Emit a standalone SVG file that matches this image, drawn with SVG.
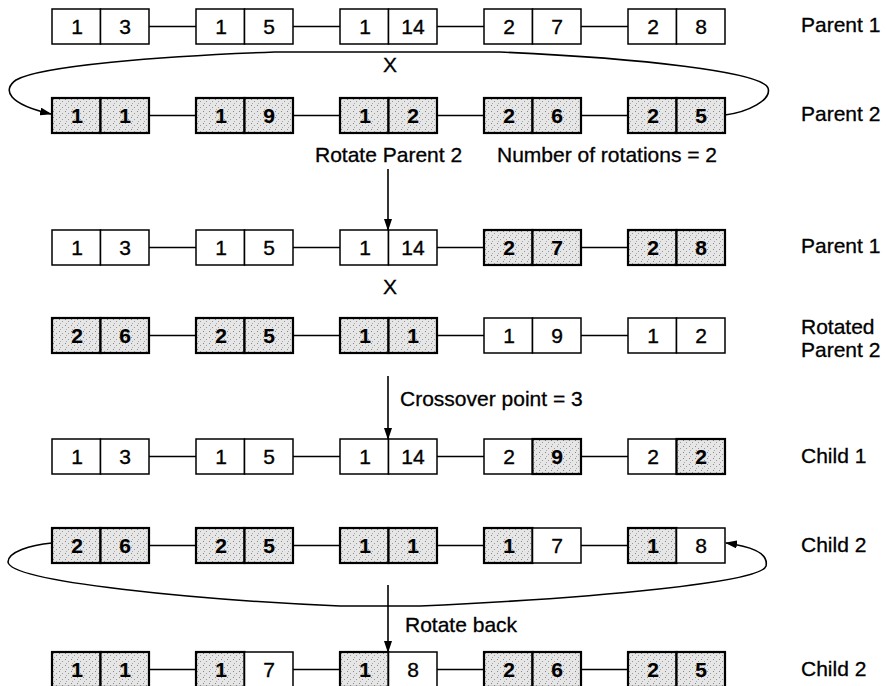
<svg xmlns="http://www.w3.org/2000/svg" width="886" height="686" viewBox="0 0 886 686">
<style>
.p{fill:#fff;stroke:#000;stroke-width:1.5}
.s{fill:url(#dots);stroke:#000;stroke-width:2.2}
.d{font-family:"Liberation Sans",Arial,sans-serif;font-size:21px;text-anchor:middle;fill:#000;stroke:#000;stroke-width:0.35}
.b{font-weight:bold;stroke-width:0.2}
.l{font-family:"Liberation Sans",Arial,sans-serif;font-size:21px;fill:#000;stroke:#000;stroke-width:0.3}
.ln{stroke:#000;stroke-width:1.6;fill:none}
</style>
<defs>
<pattern id="dots" width="6" height="6" patternUnits="userSpaceOnUse">
<rect width="6" height="6" fill="#e6e6e6"/>
<rect x="1" y="1" width="1" height="1" fill="#888"/>
<rect x="4" y="3" width="1" height="1" fill="#999"/>
<rect x="2" y="5" width="1" height="1" fill="#aaa"/>
</pattern>
<marker id="ah" markerWidth="12" markerHeight="8" refX="11" refY="4" orient="auto" markerUnits="userSpaceOnUse">
<path d="M0,0 L12,4 L0,8 Z" fill="#000"/>
</marker>
</defs>
<rect width="886" height="686" fill="#fff"/>

<g id="connectors">
<path class="ln" d="M149,26.5H196M293,26.5H340M437,26.5H484M581,26.5H628"/>
<path class="ln" d="M149,115.5H196M293,115.5H340M437,115.5H484M581,115.5H628"/>
<path class="ln" d="M149,247.5H196M293,247.5H340M437,247.5H484M581,247.5H628"/>
<path class="ln" d="M149,335.5H196M293,335.5H340M437,335.5H484M581,335.5H628"/>
<path class="ln" d="M149,456.5H196M293,456.5H340M437,456.5H484M581,456.5H628"/>
<path class="ln" d="M149,545.5H196M293,545.5H340M437,545.5H484M581,545.5H628"/>
<path class="ln" d="M149,669.5H196M293,669.5H340M437,669.5H484M581,669.5H628"/>
<path class="ln" marker-end="url(#ah)" d="M725,115 C748,112 772,100 768,88 C762,72 640,58 500,52 L275,52 C160,56 40,66 16,80 C2,90 8,104 51,114"/>
<path class="ln" marker-end="url(#ah)" d="M388,169 V230"/>
<path class="ln" marker-end="url(#ah)" d="M388,376 V439"/>
<path class="ln" marker-end="url(#ah)" d="M388,585 V652"/>
<path class="ln" marker-end="url(#ah)" d="M52,543 C30,545 8,552 8,562 C10,582 200,600 340,606 L420,606 C600,598 762,582 766,566 C769,552 748,546 726,543"/>
</g>

<g id="r1b1" transform="translate(52,9)"><rect class="p" width="48.5" height="35"/><rect class="p" x="48.5" width="48.5" height="35"/><text class="d" x="25" y="25">1</text><text class="d" x="73" y="25">3</text></g>
<g id="r1b2" transform="translate(196,9)"><rect class="p" width="48.5" height="35"/><rect class="p" x="48.5" width="48.5" height="35"/><text class="d" x="25" y="25">1</text><text class="d" x="73" y="25">5</text></g>
<g id="r1b3" transform="translate(340,9)"><rect class="p" width="48.5" height="35"/><rect class="p" x="48.5" width="48.5" height="35"/><text class="d" x="25" y="25">1</text><text class="d" x="73" y="25">14</text></g>
<g id="r1b4" transform="translate(484,9)"><rect class="p" width="48.5" height="35"/><rect class="p" x="48.5" width="48.5" height="35"/><text class="d" x="25" y="25">2</text><text class="d" x="73" y="25">7</text></g>
<g id="r1b5" transform="translate(628,9)"><rect class="p" width="48.5" height="35"/><rect class="p" x="48.5" width="48.5" height="35"/><text class="d" x="25" y="25">2</text><text class="d" x="73" y="25">8</text></g>
<text class="l" x="801" y="32">Parent 1</text>
<text class="l" x="383" y="72">X</text>

<g id="r2b1" transform="translate(52,98)"><rect class="s" width="48.5" height="35"/><rect class="s" x="48.5" width="48.5" height="35"/><text class="d b" x="25" y="25">1</text><text class="d b" x="73" y="25">1</text></g>
<g id="r2b2" transform="translate(196,98)"><rect class="s" width="48.5" height="35"/><rect class="s" x="48.5" width="48.5" height="35"/><text class="d b" x="25" y="25">1</text><text class="d b" x="73" y="25">9</text></g>
<g id="r2b3" transform="translate(340,98)"><rect class="s" width="48.5" height="35"/><rect class="s" x="48.5" width="48.5" height="35"/><text class="d b" x="25" y="25">1</text><text class="d b" x="73" y="25">2</text></g>
<g id="r2b4" transform="translate(484,98)"><rect class="s" width="48.5" height="35"/><rect class="s" x="48.5" width="48.5" height="35"/><text class="d b" x="25" y="25">2</text><text class="d b" x="73" y="25">6</text></g>
<g id="r2b5" transform="translate(628,98)"><rect class="s" width="48.5" height="35"/><rect class="s" x="48.5" width="48.5" height="35"/><text class="d b" x="25" y="25">2</text><text class="d b" x="73" y="25">5</text></g>
<text class="l" x="801" y="121">Parent 2</text>
<text class="l" x="315" y="162">Rotate Parent 2</text>
<text class="l" x="497" y="162">Number of rotations = 2</text>

<g id="r3b1" transform="translate(52,230)"><rect class="p" width="48.5" height="35"/><rect class="p" x="48.5" width="48.5" height="35"/><text class="d" x="25" y="25">1</text><text class="d" x="73" y="25">3</text></g>
<g id="r3b2" transform="translate(196,230)"><rect class="p" width="48.5" height="35"/><rect class="p" x="48.5" width="48.5" height="35"/><text class="d" x="25" y="25">1</text><text class="d" x="73" y="25">5</text></g>
<g id="r3b3" transform="translate(340,230)"><rect class="p" width="48.5" height="35"/><rect class="p" x="48.5" width="48.5" height="35"/><text class="d" x="25" y="25">1</text><text class="d" x="73" y="25">14</text></g>
<g id="r3b4" transform="translate(484,230)"><rect class="s" width="48.5" height="35"/><rect class="s" x="48.5" width="48.5" height="35"/><text class="d b" x="25" y="25">2</text><text class="d b" x="73" y="25">7</text></g>
<g id="r3b5" transform="translate(628,230)"><rect class="s" width="48.5" height="35"/><rect class="s" x="48.5" width="48.5" height="35"/><text class="d b" x="25" y="25">2</text><text class="d b" x="73" y="25">8</text></g>
<text class="l" x="801" y="253">Parent 1</text>
<text class="l" x="383" y="294">X</text>

<g id="r4b1" transform="translate(52,318)"><rect class="s" width="48.5" height="35"/><rect class="s" x="48.5" width="48.5" height="35"/><text class="d b" x="25" y="25">2</text><text class="d b" x="73" y="25">6</text></g>
<g id="r4b2" transform="translate(196,318)"><rect class="s" width="48.5" height="35"/><rect class="s" x="48.5" width="48.5" height="35"/><text class="d b" x="25" y="25">2</text><text class="d b" x="73" y="25">5</text></g>
<g id="r4b3" transform="translate(340,318)"><rect class="s" width="48.5" height="35"/><rect class="s" x="48.5" width="48.5" height="35"/><text class="d b" x="25" y="25">1</text><text class="d b" x="73" y="25">1</text></g>
<g id="r4b4" transform="translate(484,318)"><rect class="p" width="48.5" height="35"/><rect class="p" x="48.5" width="48.5" height="35"/><text class="d" x="25" y="25">1</text><text class="d" x="73" y="25">9</text></g>
<g id="r4b5" transform="translate(628,318)"><rect class="p" width="48.5" height="35"/><rect class="p" x="48.5" width="48.5" height="35"/><text class="d" x="25" y="25">1</text><text class="d" x="73" y="25">2</text></g>
<text class="l" x="801" y="334">Rotated</text>
<text class="l" x="801" y="357">Parent 2</text>
<text class="l" x="400" y="406">Crossover point = 3</text>

<g id="r5b1" transform="translate(52,439)"><rect class="p" width="48.5" height="35"/><rect class="p" x="48.5" width="48.5" height="35"/><text class="d" x="25" y="25">1</text><text class="d" x="73" y="25">3</text></g>
<g id="r5b2" transform="translate(196,439)"><rect class="p" width="48.5" height="35"/><rect class="p" x="48.5" width="48.5" height="35"/><text class="d" x="25" y="25">1</text><text class="d" x="73" y="25">5</text></g>
<g id="r5b3" transform="translate(340,439)"><rect class="p" width="48.5" height="35"/><rect class="p" x="48.5" width="48.5" height="35"/><text class="d" x="25" y="25">1</text><text class="d" x="73" y="25">14</text></g>
<g id="r5b4" transform="translate(484,439)"><rect class="p" width="48.5" height="35"/><rect class="s" x="48.5" width="48.5" height="35"/><text class="d" x="25" y="25">2</text><text class="d b" x="73" y="25">9</text></g>
<g id="r5b5" transform="translate(628,439)"><rect class="p" width="48.5" height="35"/><rect class="s" x="48.5" width="48.5" height="35"/><text class="d" x="25" y="25">2</text><text class="d b" x="73" y="25">2</text></g>
<text class="l" x="801" y="463">Child 1</text>

<g id="r6b1" transform="translate(52,528)"><rect class="s" width="48.5" height="35"/><rect class="s" x="48.5" width="48.5" height="35"/><text class="d b" x="25" y="25">2</text><text class="d b" x="73" y="25">6</text></g>
<g id="r6b2" transform="translate(196,528)"><rect class="s" width="48.5" height="35"/><rect class="s" x="48.5" width="48.5" height="35"/><text class="d b" x="25" y="25">2</text><text class="d b" x="73" y="25">5</text></g>
<g id="r6b3" transform="translate(340,528)"><rect class="s" width="48.5" height="35"/><rect class="s" x="48.5" width="48.5" height="35"/><text class="d b" x="25" y="25">1</text><text class="d b" x="73" y="25">1</text></g>
<g id="r6b4" transform="translate(484,528)"><rect class="s" width="48.5" height="35"/><rect class="p" x="48.5" width="48.5" height="35"/><text class="d b" x="25" y="25">1</text><text class="d" x="73" y="25">7</text></g>
<g id="r6b5" transform="translate(628,528)"><rect class="s" width="48.5" height="35"/><rect class="p" x="48.5" width="48.5" height="35"/><text class="d b" x="25" y="25">1</text><text class="d" x="73" y="25">8</text></g>
<text class="l" x="801" y="552">Child 2</text>
<text class="l" x="405" y="632">Rotate back</text>

<g id="r7b1" transform="translate(52,652)"><rect class="s" width="48.5" height="35"/><rect class="s" x="48.5" width="48.5" height="35"/><text class="d b" x="25" y="25">1</text><text class="d b" x="73" y="25">1</text></g>
<g id="r7b2" transform="translate(196,652)"><rect class="s" width="48.5" height="35"/><rect class="p" x="48.5" width="48.5" height="35"/><text class="d b" x="25" y="25">1</text><text class="d" x="73" y="25">7</text></g>
<g id="r7b3" transform="translate(340,652)"><rect class="s" width="48.5" height="35"/><rect class="p" x="48.5" width="48.5" height="35"/><text class="d b" x="25" y="25">1</text><text class="d" x="73" y="25">8</text></g>
<g id="r7b4" transform="translate(484,652)"><rect class="s" width="48.5" height="35"/><rect class="s" x="48.5" width="48.5" height="35"/><text class="d b" x="25" y="25">2</text><text class="d b" x="73" y="25">6</text></g>
<g id="r7b5" transform="translate(628,652)"><rect class="s" width="48.5" height="35"/><rect class="s" x="48.5" width="48.5" height="35"/><text class="d b" x="25" y="25">2</text><text class="d b" x="73" y="25">5</text></g>
<text class="l" x="801" y="676">Child 2</text>
</svg>
